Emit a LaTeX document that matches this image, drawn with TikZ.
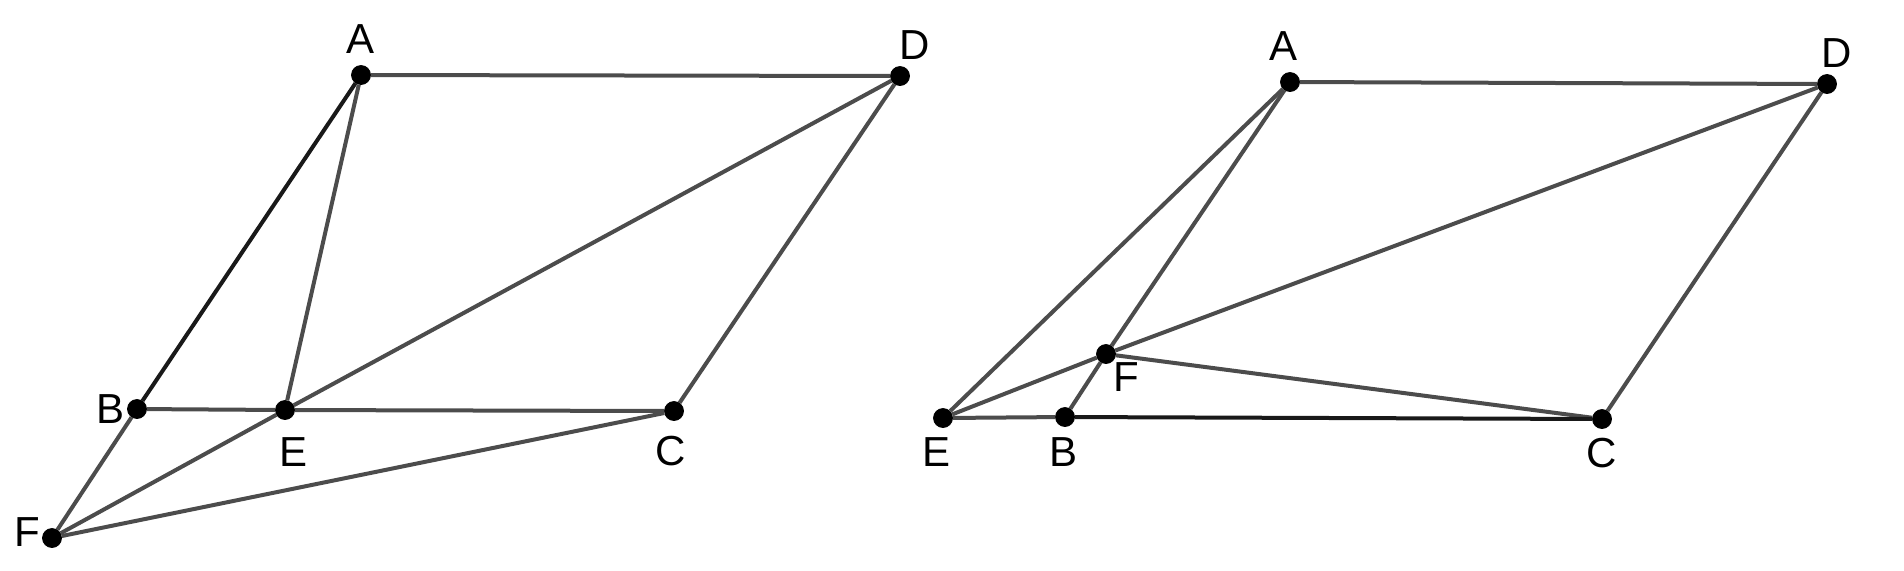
\documentclass[tikz,border=0pt]{standalone}
\usepackage{fontspec}
\setmainfont{Liberation Sans}
\tikzset{
	pt/.style={draw=black, fill=black, circle, inner sep=0pt, minimum size=9.5pt},
	lab/.style={inner sep=0pt, font=\fontsize{21}{25}\selectfont},
	seg/.style={draw=black!70, line width=2pt},
	segdark/.style={draw=black!90, line width=2pt}
}
\begin{document}
\begin{tikzpicture}[x=0.5pt, y=-0.5pt]
	\useasboundingbox (0,0) rectangle (1904,570);

	% left figure
	\node[pt] (L-A) at ( 361,  75) {};
	\node[pt] (L-D) at ( 900,  76) {};
	\node[pt] (L-B) at ( 137, 409) {};
	\node[pt] (L-E) at ( 285, 410) {};
	\node[pt] (L-C) at ( 674, 411) {};
	\node[pt] (L-F) at (  52, 538) {};

	\node[lab] (L-A-T) at ( 361,  39) {A};
	\node[lab] (L-D-T) at ( 915,  45) {D};
	\node[lab] (L-B-T) at ( 111, 409) {B};
	\node[lab] (L-E-T) at ( 294, 452) {E};
	\node[lab] (L-C-T) at ( 671, 451) {C};
	\node[lab] (L-F-T) at (  27, 532) {F};

	% right figure
	\node[pt] (R-A) at (1290,  82) {};
	\node[pt] (R-D) at (1827,  84) {};
	\node[pt] (R-F) at (1106, 354) {};
	\node[pt] (R-E) at ( 943, 418) {};
	\node[pt] (R-B) at (1065, 417) {};
	\node[pt] (R-C) at (1602, 419) {};

	\node[lab] (R-A-T) at (1283,  46) {A};
	\node[lab] (R-D-T) at (1837,  53) {D};
	\node[lab] (R-F-T) at (1126, 377) {F};
	\node[lab] (R-E-T) at ( 936, 452) {E};
	\node[lab] (R-B-T) at (1063, 452) {B};
	\node[lab] (R-C-T) at (1602, 453) {C};

	\draw[seg] (L-A) to (L-D);
	\draw[segdark] (L-A) to (L-B);
	\draw[seg] (L-B) to (L-F);
	\draw[seg] (L-A) to (L-E);
	\draw[seg] (L-D) to (L-E);
	\draw[seg] (L-E) to (L-F);
	\draw[seg] (L-B) to (L-E);
	\draw[seg] (L-E) to (L-C);
	\draw[seg] (L-D) to (L-C);
	\draw[seg] (L-F) to (L-C);

	\draw[seg] (R-A) to (R-D);
	\draw[seg] (R-A) to (R-E);
	\draw[seg] (R-A) to (R-F);
	\draw[seg] (R-F) to (R-B);
	\draw[seg] (R-D) to (R-F);
	\draw[seg] (R-F) to (R-E);
	\draw[seg] (R-F) to (R-C);
	\draw[seg] (R-E) to (R-B);
	\draw[segdark] (R-B) to (R-C);
	\draw[seg] (R-D) to (R-C);

\end{tikzpicture}
\end{document}
